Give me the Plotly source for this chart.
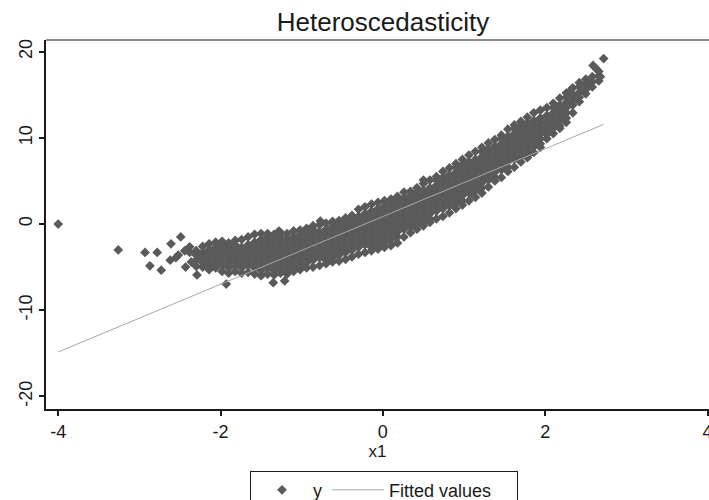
import plotly.graph_objects as go

# ---- data ----
# sparse points on the left tail
x1_sparse = [-4.00, -3.26, -2.93, -2.78, -2.87, -2.73, -2.61, -2.49, -2.62, -2.43,
             -2.29, -2.38, -2.52, -2.44, -2.36, -2.38, -2.55]
y_sparse = [0.0, -3.0, -3.3, -3.3, -4.85, -5.35, -2.3, -1.5, -4.2, -5.0,
            -5.9, -2.65, -3.6, -3.1, -4.4, -3.3, -3.9]

# dense band, read column by column (x1 value, y values in that column)
col_x = [-2.30, -2.22, -2.14, -2.06, -1.98, -1.90, -1.82, -1.74, -1.66, -1.58,
         -1.50, -1.42, -1.34, -1.26, -1.18, -1.10, -1.02, -0.94, -0.86, -0.78,
         -0.70, -0.62, -0.54, -0.46, -0.38, -0.30, -0.22, -0.14, -0.06, 0.02,
         0.10, 0.18, 0.26, 0.34, 0.42, 0.50, 0.58, 0.66, 0.74, 0.82,
         0.90, 0.98, 1.06, 1.14, 1.22, 1.30, 1.38, 1.46, 1.54, 1.62,
         1.70, 1.78, 1.86, 1.94, 2.02, 2.10, 2.18, 2.26, 2.34, 2.42,
         2.50, 2.58, 2.66]
col_y = [
    [-4.9, -4.2, -3.6, -3.1],
    [-5.0, -4.5, -3.9, -3.3, -2.6],
    [-5.3, -4.8, -4.2, -3.6, -3.0, -2.3],
    [-5.1, -4.5, -3.9, -3.3, -2.7, -2.1],
    [-5.5, -4.8, -4.2, -3.6, -3.0, -2.4, -2.0],
    [-5.7, -5.1, -4.5, -3.9, -3.3, -2.7, -2.2],
    [-5.5, -4.8, -4.2, -3.6, -3.0, -2.4, -1.9],
    [-5.7, -5.1, -4.5, -3.9, -3.3, -2.7, -1.8],
    [-5.6, -4.8, -4.2, -3.6, -3.0, -2.4, -1.5],
    [-5.8, -5.1, -4.5, -3.9, -3.3, -2.7, -2.1, -1.2],
    [-6.0, -5.4, -4.8, -4.2, -3.6, -3.0, -2.4, -1.8, -1.1],
    [-5.8, -5.1, -4.5, -3.9, -3.3, -2.7, -2.1, -1.5, -1.1],
    [-5.9, -5.4, -4.8, -4.2, -3.6, -3.0, -2.4, -1.8, -1.2],
    [-5.7, -5.1, -4.5, -3.9, -3.3, -2.7, -2.1, -1.5, -1.0],
    [-5.8, -5.4, -4.8, -4.2, -3.6, -3.0, -2.4, -1.8, -1.1],
    [-5.5, -5.1, -4.5, -3.9, -3.3, -2.7, -2.1, -1.5, -0.8],
    [-5.3, -4.8, -4.2, -3.6, -3.0, -2.4, -1.8, -1.2, -0.7],
    [-5.1, -4.5, -3.9, -3.3, -2.7, -2.1, -1.5, -0.9, -0.5],
    [-5.0, -4.2, -3.6, -3.0, -2.4, -1.8, -1.2, -0.6, -0.2],
    [-4.8, -3.9, -3.3, -2.7, -2.1, -1.5, -0.9, -0.1],
    [-4.6, -4.2, -3.6, -3.0, -2.4, -1.8, -1.2, -0.6, 0.1],
    [-4.4, -3.9, -3.3, -2.7, -2.1, -1.5, -0.9, -0.3, 0.3],
    [-4.3, -3.6, -3.0, -2.4, -1.8, -1.2, -0.6, 0.0, 0.4],
    [-4.1, -3.3, -2.7, -2.1, -1.5, -0.9, -0.3, 0.3, 0.7],
    [-3.8, -3.0, -2.4, -1.8, -1.2, -0.6, 0.0, 0.6, 1.0],
    [-3.5, -2.7, -2.1, -1.5, -0.9, -0.3, 0.3, 0.9, 1.7],
    [-3.3, -2.4, -1.8, -1.2, -0.6, 0.0, 0.6, 1.2, 2.0],
    [-3.1, -2.7, -2.1, -1.5, -0.9, -0.3, 0.3, 0.9, 1.5, 2.3],
    [-2.9, -2.4, -1.8, -1.2, -0.6, 0.0, 0.6, 1.2, 1.8, 2.5],
    [-2.7, -2.1, -1.5, -0.9, -0.3, 0.3, 0.9, 1.5, 2.1, 2.7],
    [-2.5, -1.8, -1.2, -0.6, 0.0, 0.6, 1.2, 1.8, 2.4, 2.9],
    [-2.2, -1.5, -0.9, -0.3, 0.3, 0.9, 1.5, 2.1, 2.7, 3.2],
    [-1.5, -0.6, 0.0, 0.6, 1.2, 1.8, 2.4, 3.0, 3.7],
    [-1.0, -0.3, 0.3, 0.9, 1.5, 2.1, 2.7, 3.3, 3.8],
    [-0.6, 0.0, 0.6, 1.2, 1.8, 2.4, 3.0, 3.6, 4.2],
    [-0.2, 0.3, 0.9, 1.5, 2.1, 2.7, 3.3, 3.9, 4.7],
    [0.2, 0.6, 1.2, 1.8, 2.4, 3.0, 3.6, 4.2, 5.1],
    [0.6, 1.5, 2.1, 2.7, 3.3, 3.9, 4.5, 5.1, 5.5],
    [0.9, 1.8, 2.4, 3.0, 3.6, 4.2, 4.8, 5.4, 6.1],
    [1.3, 2.1, 2.7, 3.3, 3.9, 4.5, 5.1, 5.7, 6.5],
    [1.8, 2.4, 3.0, 3.6, 4.2, 4.8, 5.4, 6.0, 6.6, 7.0],
    [2.2, 2.7, 3.3, 3.9, 4.5, 5.1, 5.7, 6.3, 6.9, 7.5],
    [2.7, 3.6, 4.2, 4.8, 5.4, 6.0, 6.6, 7.2, 8.0],
    [3.1, 3.9, 4.5, 5.1, 5.7, 6.3, 6.9, 7.5, 8.4],
    [3.6, 4.2, 4.8, 5.4, 6.0, 6.6, 7.2, 7.8, 8.4, 8.9],
    [4.3, 5.1, 5.7, 6.3, 6.9, 7.5, 8.1, 8.7, 9.4],
    [5.0, 5.4, 6.0, 6.6, 7.2, 7.8, 8.4, 9.0, 9.8],
    [5.4, 6.3, 6.9, 7.5, 8.1, 8.7, 9.3, 9.9, 10.3],
    [6.1, 6.6, 7.2, 7.8, 8.4, 9.0, 9.6, 10.2, 11.0],
    [6.6, 7.5, 8.1, 8.7, 9.3, 9.9, 10.5, 11.1, 11.5],
    [7.2, 7.8, 8.4, 9.0, 9.6, 10.2, 10.8, 11.4, 11.9],
    [7.7, 8.1, 8.7, 9.3, 9.9, 10.5, 11.1, 11.7, 12.4],
    [8.3, 9.0, 9.6, 10.2, 10.8, 11.4, 12.0, 12.9],
    [8.9, 9.3, 9.9, 10.5, 11.1, 11.7, 12.3, 13.2],
    [9.9, 10.4, 10.8, 11.4, 12.0, 12.6, 13.5],
    [10.5, 11.1, 11.7, 12.3, 12.9, 13.5, 14.0],
    [11.1, 11.4, 12.0, 12.6, 13.2, 13.8, 14.6],
    [11.8, 12.3, 12.9, 13.5, 14.1, 14.7, 15.2],
    [12.9, 13.8, 14.4, 15.0, 15.8],
    [14.2, 14.7, 15.3, 15.9, 16.4],
    [15.1, 15.6, 16.2, 16.8],
    [15.9, 16.5, 17.1],
    [16.6, 17.2, 17.7],
]

# isolated points around the band
x1_extra = [-1.93, -1.35, -1.21, -1.28, -0.77, 0.50, 1.81, 1.11, 2.59, 2.62, 2.72, 2.68, 2.53, 2.31, 2.14]
y_extra = [-6.96, -6.8, -6.6, -0.81, 0.35, 5.1, 8.2, 3.36, 18.4, 18.1, 19.2, 17.1, 16.5, 15.5, 13.6]

# fitted values (OLS line) end points
fit_x = [-4.0, 2.72]
fit_y = [-14.85, 11.56]

# axis ticks
x_ticks = [-4, -2, 0, 2, 4]
x_ticktext = ["-4", "-2", "0", "2", "4"]
y_ticks = [-20, -10, 0, 10, 20]
y_ticktext = ["-20", "-10", "0", "10", "20"]

# ---- build ----
x1 = list(x1_sparse)
y = list(y_sparse)
for cx, ys in zip(col_x, col_y):
    for v in ys:
        x1.append(cx)
        y.append(v)
x1 += x1_extra
y += y_extra

FONT = "Liberation Sans, Arial, Helvetica, sans-serif"
INK = "#1a1a1a"
W, H = 709, 500
NBSP = "\u00a0"

fig = go.Figure()
fig.add_trace(go.Scatter(
    x=x1, y=y, mode="markers", name="y",
    marker=dict(symbol="diamond", size=7.5, color="#5a5a5a", line=dict(width=0)),
))
fig.add_trace(go.Scatter(
    x=fit_x, y=fit_y, mode="lines", name="Fitted values" + NBSP * 4,
    line=dict(color="#a6a6a6", width=1),
))

fig.update_layout(
    width=W, height=H,
    margin=dict(l=46, r=0, t=40, b=91, autoexpand=False),
    paper_bgcolor="white", plot_bgcolor="white",
    font=dict(family=FONT, color=INK, size=18),
    title=dict(text="Heteroscedasticity", x=383 / W, xanchor="center",
               y=1 - 22 / H, yanchor="middle",
               font=dict(size=26, family=FONT, color=INK)),
    showlegend=True,
    legend=dict(orientation="h", x=(250 - 46) / 663, xanchor="left", y=-0.167, yanchor="top",
                bordercolor=INK, borderwidth=1, bgcolor="white",
                font=dict(size=18, family=FONT, color=INK),
                itemwidth=52),
    xaxis=dict(range=[-4.15, 4.018], tickvals=x_ticks, ticktext=x_ticktext,
               automargin=False, ticklabeloverflow="allow",
               showgrid=False, zeroline=False, showline=True, linecolor=INK, linewidth=2,
               ticks="outside", ticklen=5, tickcolor=INK, tickwidth=1.5,
               tickfont=dict(size=18, family=FONT, color=INK),
               title=dict(text="x1", font=dict(size=17, family=FONT, color=INK), standoff=4)),
    yaxis=dict(range=[-21.46, 21.35], tickvals=y_ticks, ticktext=y_ticktext,
               automargin=False, ticklabeloverflow="allow",
               showgrid=False, zeroline=False, showline=True, linecolor=INK, linewidth=2,
               ticks="outside", ticklen=5, tickcolor=INK, tickwidth=1.5, tickangle=-90,
               tickfont=dict(size=18, family=FONT, color=INK)),
    shapes=[dict(type="line", xref="paper", yref="paper", x0=0, x1=1, y0=1, y1=1,
                 line=dict(color=INK, width=1.2))],
)

# remove the default page margin so the 709x500 figure fills the window exactly
fig.write_html(
    "out.html",
    config={"displayModeBar": False},
    post_script="document.body.style.margin='0';document.body.style.overflow='hidden';",
)
